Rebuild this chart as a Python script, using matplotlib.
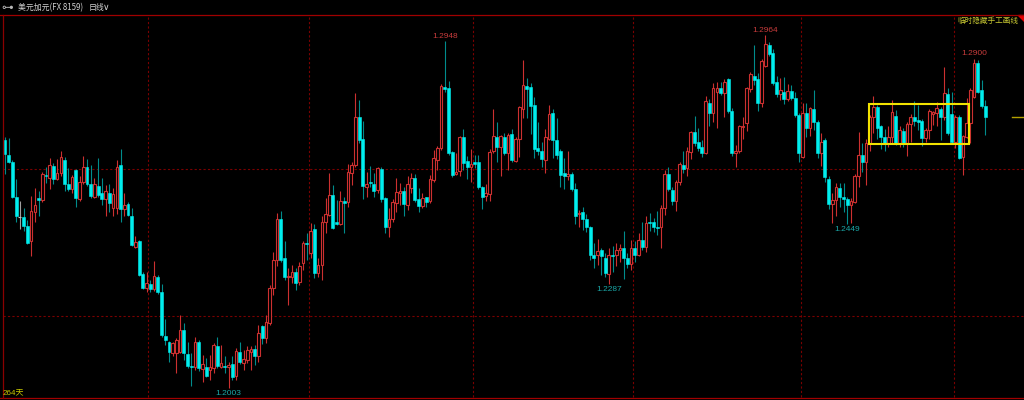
import numpy as np
import matplotlib
matplotlib.use("Agg")
import matplotlib.pyplot as plt
from matplotlib.lines import Line2D
from matplotlib.patches import Polygon, Rectangle

# ---------------- data (USD/CAD daily, prices in pips = price*10000) ----------------
open_pips = [
12678,12638,12619,12523,12468,12468,12444,12402,12481,12520,12515,12583,12576,12608,12571,12589,12625,12558,12544,12596,
12518,12563,12605,12559,12524,12554,12535,12517,12535,12492,12492,12609,12491,12504,12472,12388,12402,12313,12276,12285,
12272,12305,12264,12145,12128,12098,12098,12102,12161,12096,12063,12061,12127,12055,12059,12052,12057,12118,12061,12063,
12061,12068,12036,12102,12070,12079,12102,12109,12089,12172,12138,12181,12275,12352,12462,12356,12304,12304,12320,12292,
12343,12397,12370,12435,12317,12338,12456,12474,12529,12454,12449,12513,12510,12589,12610,12742,12681,12551,12563,12558,
12542,12598,12520,12442,12462,12506,12533,12540,12501,12547,12576,12517,12499,12522,12513,12568,12624,12656,12823,12819,
12645,12586,12595,12686,12622,12605,12618,12618,12550,12527,12531,12647,12687,12660,12686,12644,12695,12622,12680,12762,
12825,12822,12774,12656,12648,12624,12681,12751,12678,12648,12588,12580,12586,12545,12476,12481,12463,12440,12365,12364,
12379,12358,12314,12365,12365,12379,12385,12356,12341,12383,12365,12406,12388,12456,12454,12442,12441,12492,12586,12542,
12513,12563,12610,12601,12646,12700,12673,12660,12644,12778,12751,12810,12819,12807,12843,12758,12644,12647,12713,12725,
12816,12853,12843,12780,12880,12937,12916,12836,12804,12810,12790,12812,12792,12747,12633,12751,12710,12763,12728,12642,
12678,12571,12503,12515,12547,12522,12517,12501,12510,12579,12638,12619,12671,12742,12767,12715,12686,12671,12687,12744,
12669,12703,12671,12722,12740,12733,12731,12683,12706,12749,12753,12762,12742,12804,12749,12674,12742,12631,12687,12724,
12795,12888,12813,12771]
high_pips = [
12686,12683,12624,12571,12512,12492,12461,12526,12547,12540,12592,12606,12628,12615,12626,12647,12633,12601,12583,12599,
12579,12635,12626,12610,12574,12628,12574,12556,12559,12547,12624,12653,12533,12510,12492,12417,12406,12320,12320,12297,
12350,12311,12286,12190,12132,12129,12138,12202,12179,12129,12098,12143,12134,12093,12084,12093,12125,12143,12120,12090,
12075,12089,12111,12129,12107,12116,12116,12120,12175,12175,12202,12284,12374,12479,12486,12402,12329,12338,12329,12347,
12402,12424,12451,12450,12356,12470,12520,12589,12556,12515,12538,12524,12613,12619,12807,12787,12731,12592,12608,12589,
12606,12606,12524,12494,12517,12574,12562,12549,12580,12587,12586,12547,12533,12524,12583,12651,12662,12830,12948,12840,
12649,12642,12689,12707,12635,12653,12638,12638,12554,12559,12654,12762,12728,12691,12697,12697,12708,12687,12771,12896,
12848,12833,12794,12728,12674,12707,12774,12762,12737,12653,12628,12647,12592,12560,12488,12497,12477,12444,12397,12408,
12383,12370,12383,12390,12397,12395,12431,12370,12406,12402,12424,12456,12470,12479,12465,12486,12501,12597,12604,12551,
12568,12619,12647,12660,12704,12744,12710,12677,12798,12789,12834,12837,12837,12843,12846,12765,12665,12719,12740,12823,
12864,12937,12860,12898,12964,12946,12925,12852,12846,12849,12831,12828,12810,12751,12778,12778,12767,12814,12733,12697,
12683,12580,12533,12560,12562,12562,12524,12520,12586,12701,12669,12680,12746,12798,12774,12719,12707,12715,12787,12760,
12715,12710,12726,12749,12784,12774,12736,12710,12762,12758,12782,12767,12878,12819,12810,12746,12746,12691,12792,12819,
12900,12895,12842,12787]
low_pips = [
12586,12615,12520,12456,12435,12431,12395,12361,12456,12470,12510,12560,12545,12557,12568,12579,12538,12540,12533,12497,
12512,12558,12553,12521,12521,12524,12501,12472,12481,12470,12476,12456,12470,12470,12390,12385,12308,12272,12263,12263,
12268,12259,12143,12120,12075,12090,12045,12098,12079,12057,12009,12052,12048,12020,12034,12025,12043,12057,12057,12043,
12003,12025,12025,12068,12052,12072,12052,12066,12075,12123,12125,12175,12257,12334,12347,12297,12230,12290,12270,12284,
12324,12352,12356,12302,12306,12297,12424,12470,12435,12447,12447,12424,12497,12556,12606,12671,12518,12524,12551,12524,
12533,12510,12426,12415,12456,12483,12501,12470,12488,12533,12510,12483,12492,12497,12506,12565,12597,12652,12810,12638,
12577,12583,12580,12597,12571,12565,12601,12544,12490,12513,12513,12642,12617,12579,12638,12597,12619,12617,12633,12737,
12737,12695,12630,12638,12606,12589,12678,12628,12626,12551,12545,12569,12540,12449,12442,12433,12429,12352,12331,12338,
12310,12304,12287,12320,12334,12347,12299,12329,12324,12347,12361,12379,12372,12431,12429,12420,12383,12474,12538,12501,
12486,12556,12589,12580,12626,12662,12649,12633,12639,12716,12726,12710,12801,12742,12753,12635,12606,12644,12680,12703,
12810,12828,12758,12767,12878,12907,12828,12796,12787,12776,12783,12787,12740,12617,12628,12687,12689,12706,12628,12607,
12565,12490,12452,12470,12497,12481,12449,12452,12506,12551,12592,12556,12647,12697,12680,12653,12647,12660,12667,12665,
12660,12660,12635,12674,12716,12706,12662,12674,12680,12719,12715,12678,12733,12692,12671,12656,12626,12583,12683,12669,
12792,12807,12765,12692]
close_pips = [
12639,12619,12524,12470,12468,12445,12399,12485,12500,12515,12586,12580,12609,12572,12589,12633,12559,12544,12577,12519,
12563,12605,12558,12526,12559,12529,12517,12540,12506,12530,12606,12491,12500,12473,12393,12400,12311,12276,12290,12272,
12308,12264,12146,12134,12101,12125,12134,12161,12099,12063,12060,12129,12057,12069,12036,12061,12120,12063,12070,12059,
12066,12032,12104,12075,12081,12107,12109,12090,12154,12140,12184,12275,12352,12463,12352,12304,12308,12318,12290,12335,
12399,12394,12431,12317,12338,12456,12476,12529,12438,12450,12512,12506,12592,12610,12742,12678,12554,12558,12560,12540,
12601,12518,12442,12462,12510,12536,12538,12504,12558,12576,12515,12499,12520,12508,12571,12628,12657,12826,12817,12644,
12583,12592,12686,12615,12604,12614,12614,12550,12524,12533,12645,12690,12660,12689,12642,12691,12624,12681,12767,12827,
12818,12771,12653,12649,12626,12686,12749,12677,12638,12583,12579,12586,12545,12470,12479,12463,12440,12365,12358,12376,
12363,12315,12365,12361,12379,12385,12356,12341,12383,12365,12406,12388,12451,12451,12442,12439,12492,12586,12544,12513,
12563,12614,12598,12648,12699,12669,12656,12644,12784,12751,12819,12819,12805,12835,12758,12644,12649,12715,12716,12819,
12858,12842,12778,12892,12939,12912,12832,12804,12813,12790,12812,12792,12745,12644,12751,12710,12765,12726,12642,12674,
12577,12503,12515,12551,12524,12517,12501,12512,12580,12638,12619,12671,12742,12767,12710,12686,12671,12687,12755,12669,
12706,12671,12722,12742,12731,12728,12683,12706,12758,12755,12765,12742,12805,12697,12674,12742,12628,12689,12725,12813,
12888,12810,12771,12742]

peak_idx = [118, 204, 260]          # labelled highs
trough_idx = [60, 162, 226]         # labelled lows
month_breaks = [38.5, 81.5, 125.5, 168.5, 213.5, 254.5]
grid_prices = [1.26, 1.22]
box_x = [231.8, 258.7]              # hand-drawn box (bar index range)
box_y = [1.2667, 1.2775]            # hand-drawn box (price range)
title_name = "美元加元(FX 8159)"
title_period = "日线"
n_days_label = "264天"
hide_label = "临时隐藏手工画线"

O = np.array(open_pips) / 10000.0
H = np.array(high_pips) / 10000.0
L = np.array(low_pips) / 10000.0
C = np.array(close_pips) / 10000.0
n = len(O)
x = np.arange(n)

RED = "#cc3030"
CYAN = "#00eeee"
TEAL = "#008c8c"
GRID = "#7a0000"
FRAME = "#a00000"

W, Hh = 1024, 400
fig = plt.figure(figsize=(W / 100, Hh / 100), dpi=100, facecolor="black")
ax = fig.add_axes([0, 0, 1, 1])
ax.set_facecolor("black")
ax.set_xlim(-1.3416, 273.4)
ax.set_ylim(1.19703, 1.30593)
ax.axis("off")

# grid
for gp in grid_prices:
    ax.axhline(gp, xmin=3 / W, xmax=1, color=GRID, lw=0.8, ls=(0, (2, 2)), zorder=1)
for mb in month_breaks:
    ax.axvline(mb, ymin=3 / Hh, ymax=1 - 14.5 / Hh, color=GRID, lw=0.8, ls=(0, (2, 2)), zorder=1)

up = C > O
dn = C < O
fl = C == O

# wicks
ax.vlines(x[up], L[up], H[up], color=RED, lw=0.8, zorder=2)
ax.vlines(x[dn], L[dn], H[dn], color=TEAL, lw=0.8, zorder=2)
ax.vlines(x[fl], L[fl], H[fl], color="#a0a0a0", lw=0.8, zorder=2)

# bodies
ax.bar(x[up], (C - O)[up], bottom=O[up], width=0.7, facecolor="black",
       edgecolor=RED, lw=0.8, zorder=3)
ax.bar(x[dn], (O - C)[dn], bottom=C[dn], width=0.8, facecolor=CYAN,
       edgecolor=CYAN, lw=0.4, zorder=3)
ax.hlines(C[fl], x[fl] - 0.4, x[fl] + 0.4, color="#c0c0c0", lw=0.8, zorder=3)

# extreme labels
for i in peak_idx:
    ax.annotate(f"{H[i]:.4f}", (x[i], H[i]), xytext=(0, 3.4), textcoords="offset points",
                ha="center", va="center", color="#c83c3c", fontsize=6,
                family="Liberation Sans", zorder=5)
for i in trough_idx:
    ax.annotate(f"{L[i]:.4f}", (x[i], L[i]), xytext=(0, -3.9), textcoords="offset points",
                ha="center", va="center", color="#1aa8a8", fontsize=6,
                family="Liberation Sans", zorder=5)

# hand-drawn yellow box
ax.add_patch(Rectangle((box_x[0], box_y[0]), box_x[1] - box_x[0], box_y[1] - box_y[0],
                       fill=False, edgecolor="#f2e200", lw=1.5, zorder=6))

# last price marker
ax.axhline(C[-1], xmin=1012 / W, xmax=1, color="#b4a000", lw=1, zorder=4)

# frame lines
def fline(xs, ys, **kw):
    fig.add_artist(Line2D([v / W for v in xs], [1 - v / Hh for v in ys],
                          transform=fig.transFigure, **kw))

fline([0, W], [14.5, 14.5], color=FRAME, lw=0.9)
fline([0, W], [397.5, 397.5], color=FRAME, lw=0.9)
fline([3, 3], [14.5, 397.5], color="#8a0000", lw=0.9)
fig.add_artist(Polygon([[1018 / W, 1 - 15 / Hh], [1, 1 - 15 / Hh], [1, 1 - 21 / Hh]],
                       closed=True, transform=fig.transFigure, color="#e00000"))

cjk = ["Noto Sans CJK SC", "DejaVu Sans"]
fig.text(1.5 / W, 1 - 7.5 / Hh, "⊶", color="#b8b8b8", fontsize=8.5, va="center",
         family=["DejaVu Sans"])
fig.text(18 / W, 1 - 7.5 / Hh, title_name, color="#d0d0d0", fontsize=5.7, va="center",
         family=cjk)
fig.text(89 / W, 1 - 7.5 / Hh, title_period, color="#d0d0d0", fontsize=5.7, va="center",
         family=cjk)
fig.text(103 / W, 1 - 7.5 / Hh, "∨", color="#d0d0d0", fontsize=6.5, va="center",
         family=["DejaVu Sans"])
fig.text(957 / W, 1 - 21 / Hh, hide_label, color="#c8c832", fontsize=5.5, va="center",
         family=cjk)
fig.text(3 / W, 1 - 393 / Hh, n_days_label, color="#c8c800", fontsize=5.8, va="center",
         family=["Liberation Sans", "Noto Sans CJK SC"])

fig.savefig("out.png", dpi=100, facecolor="black")
